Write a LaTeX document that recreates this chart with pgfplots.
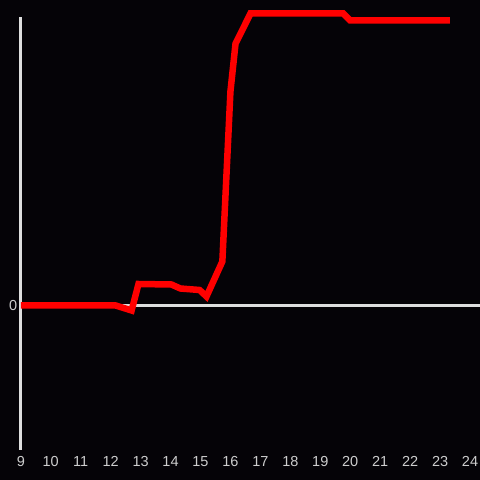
\documentclass[border=0pt]{standalone}
\usepackage{pgfplots}
\pgfplotsset{compat=1.18}
\usepackage{fontspec}
\setmainfont{Liberation Sans}
\definecolor{bg}{RGB}{5,3,7}
\definecolor{axc}{RGB}{222,222,222}
\definecolor{tickc}{RGB}{205,205,205}
\begin{document}
\begin{tikzpicture}[x=1pt,y=1pt]
\path[use as bounding box] (0,0) rectangle (480,480);
\fill[bg] (0,0) rectangle (480,480);
\begin{axis}[
  at={(20.8pt,30.5pt)}, anchor=south west,
  scale only axis, width=459.2pt, height=432pt,
  xmin=9, xmax=24.3333, ymin=-144, ymax=288,
  clip=false,
  axis line style={draw=none},
  major tick length=0pt,
  xtick={9,10,...,24}, ytick={0},
  xtick pos=bottom, ytick pos=left,
  tick label style={font=\fontsize{14.5}{17}\selectfont, text=tickc},
  xticklabel style={yshift=-3pt},
  /pgf/number format/assume math mode=true,
]
\draw[axc, line width=3pt] (axis cs:9,0) -- (axis cs:24.3333,0);
\draw[axc, line width=3pt] (axis cs:9,-144) -- (axis cs:9,288);
\addplot[red, line width=6.5pt, line join=miter, line cap=butt, no marks] coordinates {
(9,0) (12.17,0) (12.7,-5) (12.93,21.5) (14.03,21) (14.33,17) (14.97,15.5) (15.2,9)
(15.73,44) (16.0,214) (16.17,262) (16.67,292) (19.77,292) (20.0,285) (23.33,285)
};
\end{axis}
\end{tikzpicture}
\end{document}
